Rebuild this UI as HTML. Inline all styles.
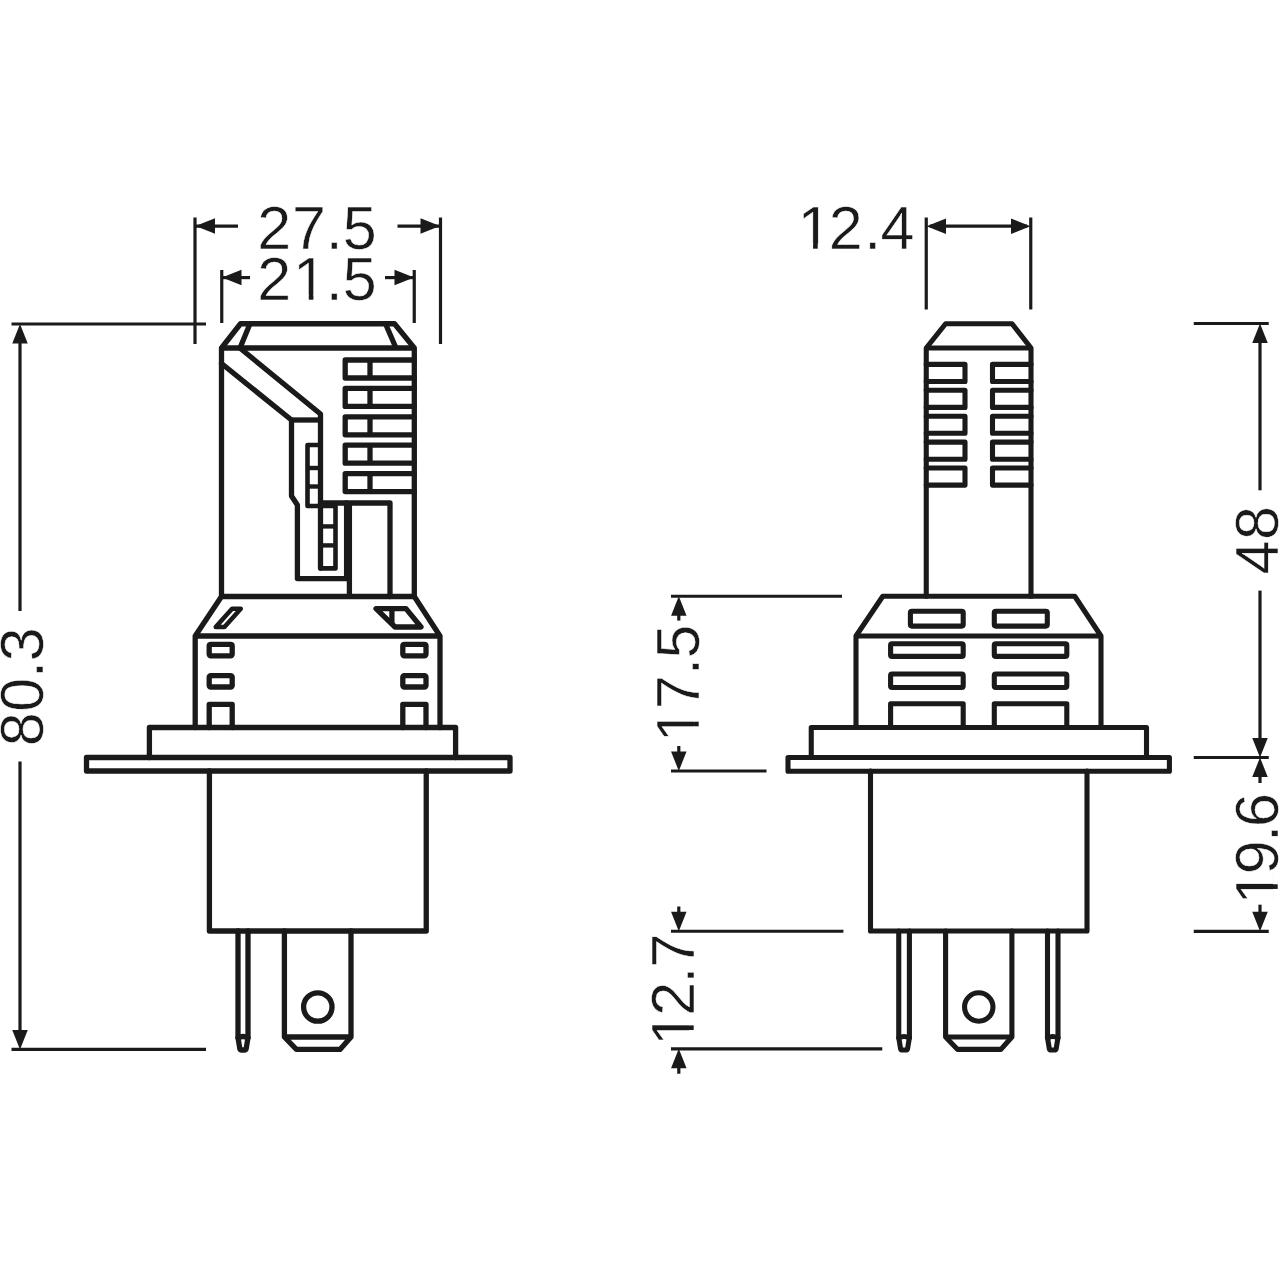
<!DOCTYPE html>
<html lang="en">
<head>
<meta charset="utf-8">
<title>LED lamp dimensional drawing</title>
<style>
html,body{margin:0;padding:0;background:#fff;}
body{width:1280px;height:1280px;overflow:hidden;}
svg{display:block;}
svg line, svg path, svg rect, svg circle{stroke:#1a1a1a;fill:none;}
svg rect.m{fill:#fff;stroke:none;}
svg text{font-family:"Liberation Sans",sans-serif;font-size:61px;fill:#1a1a1a;stroke:#fff;stroke-width:0.5px;paint-order:fill stroke;}
</style>
</head>
<body>
<svg width="1280" height="1280" viewBox="0 0 1280 1280">
<rect x="0" y="0" width="1280" height="1280" style="fill:#fff;stroke:none"/>
<g id="lamp-front">
<path d="M221.5,596.5 L221.5,348 L240.5,323.75 L394.5,323.75 L414.3,348 L414.3,596.5 Z" stroke-width="5.3" stroke-linejoin="round" stroke-linecap="round" fill="none"/>
<line x1="221.5" y1="348" x2="414.3" y2="348" stroke-width="5.3" stroke-linecap="butt"/>
<line x1="250" y1="323.75" x2="240" y2="348" stroke-width="5.3" stroke-linecap="butt"/>
<line x1="385.5" y1="323.75" x2="396" y2="348" stroke-width="5.3" stroke-linecap="butt"/>
<path d="M240.5,348.5 L320.5,414 L320.5,568" stroke-width="5.3" stroke-linejoin="round" stroke-linecap="round" fill="none"/>
<path d="M221.5,363.5 L291.5,420 L291.5,496 L297.4,505 L297.4,578.6 L346.6,578.6 L346.6,503" stroke-width="5.3" stroke-linejoin="round" stroke-linecap="round" fill="none"/>
<line x1="291.5" y1="420" x2="320.5" y2="420" stroke-width="5.3" stroke-linecap="butt"/>
<path d="M320.5,445 L307.5,445 L307.5,506 L320.5,506" stroke-width="4.6" stroke-linejoin="round" stroke-linecap="round" fill="none"/>
<line x1="307.5" y1="468" x2="320.5" y2="468" stroke-width="4.4" stroke-linecap="butt"/>
<line x1="307.5" y1="486.5" x2="320.5" y2="486.5" stroke-width="4.4" stroke-linecap="butt"/>
<path d="M320.5,503 L390,503 L390,596.5" stroke-width="5.3" stroke-linejoin="round" stroke-linecap="round" fill="none"/>
<path d="M320.5,506 L335.5,506 L335.5,568.4 L320.5,568.4" stroke-width="4.6" stroke-linejoin="round" stroke-linecap="round" fill="none"/>
<line x1="320.5" y1="526.4" x2="335.5" y2="526.4" stroke-width="4.4" stroke-linecap="butt"/>
<line x1="320.5" y1="545.4" x2="335.5" y2="545.4" stroke-width="4.4" stroke-linecap="butt"/>
<line x1="349.4" y1="503" x2="349.4" y2="596.5" stroke-width="5.3" stroke-linecap="butt"/>
<path d="M414.3,360.00 L345.2,360.00 L345.2,378.00 L414.3,378.00" stroke-width="5.3" stroke-linejoin="round" stroke-linecap="round" fill="none"/>
<line x1="370" y1="360.0" x2="370" y2="378.0" stroke-width="5.3" stroke-linecap="butt"/>
<path d="M414.3,388.40 L345.2,388.40 L345.2,406.40 L414.3,406.40" stroke-width="5.3" stroke-linejoin="round" stroke-linecap="round" fill="none"/>
<line x1="370" y1="388.4" x2="370" y2="406.4" stroke-width="5.3" stroke-linecap="butt"/>
<path d="M414.3,416.80 L345.2,416.80 L345.2,434.80 L414.3,434.80" stroke-width="5.3" stroke-linejoin="round" stroke-linecap="round" fill="none"/>
<line x1="370" y1="416.8" x2="370" y2="434.8" stroke-width="5.3" stroke-linecap="butt"/>
<path d="M414.3,445.20 L345.2,445.20 L345.2,463.20 L414.3,463.20" stroke-width="5.3" stroke-linejoin="round" stroke-linecap="round" fill="none"/>
<line x1="370" y1="445.2" x2="370" y2="463.2" stroke-width="5.3" stroke-linecap="butt"/>
<path d="M414.3,473.60 L345.2,473.60 L345.2,491.60 L414.3,491.60" stroke-width="5.3" stroke-linejoin="round" stroke-linecap="round" fill="none"/>
<line x1="370" y1="473.6" x2="370" y2="491.6" stroke-width="5.3" stroke-linecap="butt"/>
<path d="M221.5,596.5 L195.2,636 L195.2,727.5" stroke-width="5.3" stroke-linejoin="round" stroke-linecap="round" fill="none"/>
<path d="M414.3,596.5 L440,636 L440,727.5" stroke-width="5.3" stroke-linejoin="round" stroke-linecap="round" fill="none"/>
<line x1="195.2" y1="636" x2="440" y2="636" stroke-width="5.3" stroke-linecap="butt"/>
<path d="M232.05,608.8 L240.8,608.8 L224.45,627.1 L215.7,627.1 Z" stroke-width="4.5" stroke-linejoin="round" stroke-linecap="round" fill="none"/>
<path d="M376,608.6 L406,608.6 L421,627 L395,627 Z" stroke-width="5.3" stroke-linejoin="round" stroke-linecap="round" fill="none"/>
<line x1="391.9" y1="608.75" x2="391.9" y2="624.5" stroke-width="5.3" stroke-linecap="butt"/>
<rect x="209.2" y="644.3" width="23.0" height="11.5" rx="1.5" ry="1.5" stroke-width="5.3" stroke-linejoin="round"/>
<rect x="209.2" y="675.6" width="23.0" height="11.4" rx="1.5" ry="1.5" stroke-width="5.3" stroke-linejoin="round"/>
<path d="M209.2,727.5 L209.2,704.4 L232.2,704.4 L232.2,727.5" stroke-width="5.3" stroke-linejoin="round" stroke-linecap="round" fill="none"/>
<rect x="402.8" y="644.3" width="23.2" height="11.5" rx="1.5" ry="1.5" stroke-width="5.3" stroke-linejoin="round"/>
<rect x="402.8" y="675.6" width="23.2" height="11.4" rx="1.5" ry="1.5" stroke-width="5.3" stroke-linejoin="round"/>
<path d="M402.8,727.5 L402.8,704.4 L426,704.4 L426,727.5" stroke-width="5.3" stroke-linejoin="round" stroke-linecap="round" fill="none"/>
<path d="M149.4,757.5 L149.4,727.5 L455.6,727.5 L455.6,757.5" stroke-width="5.3" stroke-linejoin="round" stroke-linecap="round" fill="none"/>
<rect x="86.5" y="757.5" width="423.5" height="13.5" stroke-width="5.3" stroke-linejoin="round"/>
<path d="M209.4,771 L209.4,931 L426.25,931 L426.25,771" stroke-width="5.3" stroke-linejoin="round" stroke-linecap="round" fill="none"/>
<path d="M238,931 L238,1037.5 L239.8,1048.6 Q240.1,1050 241.6,1050 L244.4,1050 Q245.9,1050 246.2,1048.6 L248,1037.5 L248,931" stroke-width="5.3" stroke-linejoin="round" stroke-linecap="round" fill="none"/>
<path d="M238,1038 Q243.0,1035 248,1038" stroke-width="5.3" stroke-linejoin="round" stroke-linecap="round" fill="none"/>
<path d="M284.4,931 L284.4,1037 L296.4,1049.4 L340,1049.4 L351,1037 L351,931" stroke-width="5.3" stroke-linejoin="round" stroke-linecap="round" fill="none"/>
<line x1="284.4" y1="1037" x2="351" y2="1037" stroke-width="5.3" stroke-linecap="butt"/>
<circle cx="317.8" cy="1007" r="14.2" stroke-width="5.3"/>
</g>
<g id="lamp-side">
<path d="M926.25,596.25 L926.25,348 L945.6,323.75 L1012,323.75 L1031,348 L1031,596.25" stroke-width="5.1" stroke-linejoin="round" stroke-linecap="round" fill="none"/>
<line x1="926.25" y1="348" x2="1031" y2="348" stroke-width="5.1" stroke-linecap="butt"/>
<path d="M926.25,364.40 L965,364.40 L965,381.50 L926.25,381.50" stroke-width="5.1" stroke-linejoin="round" stroke-linecap="round" fill="none"/>
<path d="M1031,364.40 L992.5,364.40 L992.5,381.50 L1031,381.50" stroke-width="5.1" stroke-linejoin="round" stroke-linecap="round" fill="none"/>
<path d="M926.25,390.30 L965,390.30 L965,407.40 L926.25,407.40" stroke-width="5.1" stroke-linejoin="round" stroke-linecap="round" fill="none"/>
<path d="M1031,390.30 L992.5,390.30 L992.5,407.40 L1031,407.40" stroke-width="5.1" stroke-linejoin="round" stroke-linecap="round" fill="none"/>
<path d="M926.25,416.20 L965,416.20 L965,433.30 L926.25,433.30" stroke-width="5.1" stroke-linejoin="round" stroke-linecap="round" fill="none"/>
<path d="M1031,416.20 L992.5,416.20 L992.5,433.30 L1031,433.30" stroke-width="5.1" stroke-linejoin="round" stroke-linecap="round" fill="none"/>
<path d="M926.25,442.10 L965,442.10 L965,459.20 L926.25,459.20" stroke-width="5.1" stroke-linejoin="round" stroke-linecap="round" fill="none"/>
<path d="M1031,442.10 L992.5,442.10 L992.5,459.20 L1031,459.20" stroke-width="5.1" stroke-linejoin="round" stroke-linecap="round" fill="none"/>
<path d="M926.25,468.00 L965,468.00 L965,485.10 L926.25,485.10" stroke-width="5.1" stroke-linejoin="round" stroke-linecap="round" fill="none"/>
<path d="M1031,468.00 L992.5,468.00 L992.5,485.10 L1031,485.10" stroke-width="5.1" stroke-linejoin="round" stroke-linecap="round" fill="none"/>
<path d="M856,727.5 L856,636 L882.8,596.25 L1074.75,596.25 L1101,636 L1101,727.5" stroke-width="5.1" stroke-linejoin="round" stroke-linecap="round" fill="none"/>
<line x1="856" y1="636" x2="1101" y2="636" stroke-width="5.1" stroke-linecap="butt"/>
<rect x="910.4" y="611.2" width="52.8" height="14.9" rx="1.5" ry="1.5" stroke-width="5.1" stroke-linejoin="round"/>
<rect x="994.3" y="611.2" width="53.0" height="14.9" rx="1.5" ry="1.5" stroke-width="5.1" stroke-linejoin="round"/>
<rect x="890.6" y="643.8" width="72.6" height="12.6" rx="1.5" ry="1.5" stroke-width="5.1" stroke-linejoin="round"/>
<rect x="994.3" y="643.8" width="72.5" height="12.6" rx="1.5" ry="1.5" stroke-width="5.1" stroke-linejoin="round"/>
<rect x="890.6" y="674" width="72.6" height="13.5" rx="1.5" ry="1.5" stroke-width="5.1" stroke-linejoin="round"/>
<rect x="994.3" y="674" width="72.5" height="13.5" rx="1.5" ry="1.5" stroke-width="5.1" stroke-linejoin="round"/>
<path d="M890.6,727.5 L890.6,703.75 L963.2,703.75 L963.2,727.5" stroke-width="5.1" stroke-linejoin="round" stroke-linecap="round" fill="none"/>
<path d="M994.3,727.5 L994.3,703.75 L1066.8,703.75 L1066.8,727.5" stroke-width="5.1" stroke-linejoin="round" stroke-linecap="round" fill="none"/>
<path d="M811.25,757.5 L811.25,727.5 L1146.5,727.5 L1146.5,757.5" stroke-width="5.1" stroke-linejoin="round" stroke-linecap="round" fill="none"/>
<rect x="788" y="757.5" width="381.4" height="13.75" stroke-width="5.1" stroke-linejoin="round"/>
<path d="M870.5,771 L870.5,931 L1087,931 L1087,771" stroke-width="5.1" stroke-linejoin="round" stroke-linecap="round" fill="none"/>
<path d="M898.75,931 L898.75,1037.5 L900.55,1048.6 Q900.85,1050 902.35,1050 L905.8,1050 Q907.3,1050 907.6,1048.6 L909.4,1037.5 L909.4,931" stroke-width="5.1" stroke-linejoin="round" stroke-linecap="round" fill="none"/>
<path d="M898.75,1038 Q904.075,1035 909.4,1038" stroke-width="5.1" stroke-linejoin="round" stroke-linecap="round" fill="none"/>
<path d="M945.6,931 L945.6,1037 L957.6,1049.4 L1000.9,1049.4 L1011.9,1037 L1011.9,931" stroke-width="5.1" stroke-linejoin="round" stroke-linecap="round" fill="none"/>
<line x1="945.6" y1="1037" x2="1011.9" y2="1037" stroke-width="5.1" stroke-linecap="butt"/>
<path d="M1047.5,931 L1047.5,1037.5 L1049.3,1048.6 Q1049.6,1050 1051.1,1050 L1054.4,1050 Q1055.9,1050 1056.2,1048.6 L1058,1037.5 L1058,931" stroke-width="5.1" stroke-linejoin="round" stroke-linecap="round" fill="none"/>
<path d="M1047.5,1038 Q1052.75,1035 1058,1038" stroke-width="5.1" stroke-linejoin="round" stroke-linecap="round" fill="none"/>
<circle cx="978.75" cy="1007" r="14.2" stroke-width="5.1"/>
</g>
<g id="dims">
<line x1="195" y1="217.5" x2="195" y2="344" stroke-width="3.2" stroke-linecap="butt"/>
<line x1="440.5" y1="217.5" x2="440.5" y2="344" stroke-width="3.2" stroke-linecap="butt"/>
<line x1="195" y1="226.1" x2="238" y2="226.1" stroke-width="3.2" stroke-linecap="butt"/>
<line x1="397.5" y1="226.1" x2="440.5" y2="226.1" stroke-width="3.2" stroke-linecap="butt"/>
<polygon points="195.5,226.1 215.0,218.35 215.0,233.85" fill="#1a1a1a" stroke="none"/>
<polygon points="440,226.1 420.5,218.35 420.5,233.85" fill="#1a1a1a" stroke="none"/>
<g transform="translate(0,249)">
<text x="257.34 292.11 325.73 342.70" y="0">27.5</text>
</g>
<line x1="221.75" y1="270" x2="221.75" y2="323" stroke-width="3.2" stroke-linecap="butt"/>
<line x1="414.25" y1="270" x2="414.25" y2="323" stroke-width="3.2" stroke-linecap="butt"/>
<line x1="222" y1="277.6" x2="250" y2="277.6" stroke-width="3.2" stroke-linecap="butt"/>
<line x1="385" y1="277.6" x2="414" y2="277.6" stroke-width="3.2" stroke-linecap="butt"/>
<polygon points="222,277.6 241.5,269.85 241.5,285.35" fill="#1a1a1a" stroke="none"/>
<polygon points="414,277.6 394.5,269.85 394.5,285.35" fill="#1a1a1a" stroke="none"/>
<g transform="translate(0,300)">
<text x="257.34 293.11 325.73 342.70" y="0">21.5</text>
<rect class="m" x="296.16" y="-5.19" width="12.61" height="6.10"/>
<rect class="m" x="313.43" y="-5.19" width="12.00" height="6.10"/>
</g>
<line x1="11.5" y1="324" x2="206" y2="324" stroke-width="3.2" stroke-linecap="butt"/>
<line x1="11.5" y1="1049.4" x2="206" y2="1049.4" stroke-width="3.2" stroke-linecap="butt"/>
<line x1="20" y1="340" x2="20" y2="611" stroke-width="3.2" stroke-linecap="butt"/>
<line x1="20" y1="761.5" x2="20" y2="1035" stroke-width="3.2" stroke-linecap="butt"/>
<polygon points="20,324 12.25,343.5 27.75,343.5" fill="#1a1a1a" stroke="none"/>
<polygon points="20,1049.4 12.25,1029.9 27.75,1029.9" fill="#1a1a1a" stroke="none"/>
<g transform="translate(42.5,0) rotate(-90)">
<text x="-746.16 -711.76 -678.07 -661.28" y="0">80.3</text>
</g>
<line x1="926.25" y1="217.5" x2="926.25" y2="309.5" stroke-width="3.2" stroke-linecap="butt"/>
<line x1="1030.75" y1="217.5" x2="1030.75" y2="309.5" stroke-width="3.2" stroke-linecap="butt"/>
<line x1="930" y1="226.2" x2="1027" y2="226.2" stroke-width="3.2" stroke-linecap="butt"/>
<polygon points="926.5,226.2 946.0,218.45 946.0,233.95" fill="#1a1a1a" stroke="none"/>
<polygon points="1030.5,226.2 1011.0,218.45 1011.0,233.95" fill="#1a1a1a" stroke="none"/>
<g transform="translate(0,248.7)">
<text x="797.40 828.84 864.13 880.43" y="0">12.4</text>
<rect class="m" x="800.45" y="-5.19" width="12.61" height="6.10"/>
<rect class="m" x="817.73" y="-5.19" width="12.00" height="6.10"/>
</g>
<line x1="671" y1="596.25" x2="842" y2="596.25" stroke-width="3.2" stroke-linecap="butt"/>
<line x1="671" y1="771" x2="766.5" y2="771" stroke-width="3.2" stroke-linecap="butt"/>
<line x1="678.8" y1="610" x2="678.8" y2="620.6" stroke-width="3.2" stroke-linecap="butt"/>
<line x1="678.8" y1="746" x2="678.8" y2="757" stroke-width="3.2" stroke-linecap="butt"/>
<polygon points="678.8,596.25 671.05,615.75 686.55,615.75" fill="#1a1a1a" stroke="none"/>
<polygon points="678.8,771 671.05,751.5 686.55,751.5" fill="#1a1a1a" stroke="none"/>
<g transform="translate(699,0) rotate(-90)">
<text x="-742.00 -708.99 -675.07 -658.60" y="0">17.5</text>
<rect class="m" x="-738.95" y="-5.19" width="12.61" height="6.10"/>
<rect class="m" x="-721.67" y="-5.19" width="12.00" height="6.10"/>
</g>
<line x1="671" y1="931.25" x2="843.4" y2="931.25" stroke-width="3.2" stroke-linecap="butt"/>
<line x1="671" y1="1048.8" x2="882.25" y2="1048.8" stroke-width="3.2" stroke-linecap="butt"/>
<line x1="678.8" y1="906.5" x2="678.8" y2="916" stroke-width="3.2" stroke-linecap="butt"/>
<line x1="678.8" y1="1064" x2="678.8" y2="1073.75" stroke-width="3.2" stroke-linecap="butt"/>
<polygon points="678.8,931.25 671.05,911.75 686.55,911.75" fill="#1a1a1a" stroke="none"/>
<polygon points="678.8,1048.8 671.05,1068.3 686.55,1068.3" fill="#1a1a1a" stroke="none"/>
<g transform="translate(694.2,0) rotate(-90)">
<text x="-1045.69 -1015.76 -983.47 -967.39" y="0">12.7</text>
<rect class="m" x="-1042.64" y="-5.19" width="12.61" height="6.10"/>
<rect class="m" x="-1025.37" y="-5.19" width="12.00" height="6.10"/>
</g>
<line x1="1193.75" y1="323.5" x2="1268.75" y2="323.5" stroke-width="3.2" stroke-linecap="butt"/>
<line x1="1193.75" y1="757.5" x2="1268.75" y2="757.5" stroke-width="3.2" stroke-linecap="butt"/>
<line x1="1193.75" y1="931.3" x2="1268.75" y2="931.3" stroke-width="3.2" stroke-linecap="butt"/>
<line x1="1260" y1="338" x2="1260" y2="490.3" stroke-width="3.2" stroke-linecap="butt"/>
<line x1="1260" y1="590.6" x2="1260" y2="742" stroke-width="3.2" stroke-linecap="butt"/>
<polygon points="1260,323.5 1252.25,343.0 1267.75,343.0" fill="#1a1a1a" stroke="none"/>
<polygon points="1260,757.5 1252.25,738.0 1267.75,738.0" fill="#1a1a1a" stroke="none"/>
<line x1="1260" y1="772" x2="1260" y2="783" stroke-width="3.2" stroke-linecap="butt"/>
<line x1="1260" y1="904.7" x2="1260" y2="916" stroke-width="3.2" stroke-linecap="butt"/>
<polygon points="1260,757.5 1252.25,777.0 1267.75,777.0" fill="#1a1a1a" stroke="none"/>
<polygon points="1260,931.3 1252.25,911.8 1267.75,911.8" fill="#1a1a1a" stroke="none"/>
<g transform="translate(1278.3,0) rotate(-90)">
<text x="-574.57 -539.96" y="0">48</text>
</g>
<g transform="translate(1278.3,0) rotate(-90)">
<text x="-904.60 -874.35 -841.77 -826.97" y="0">19.6</text>
<rect class="m" x="-901.55" y="-5.19" width="12.61" height="6.10"/>
<rect class="m" x="-884.27" y="-5.19" width="12.00" height="6.10"/>
</g>
</g>
</svg>
</body>
</html>
